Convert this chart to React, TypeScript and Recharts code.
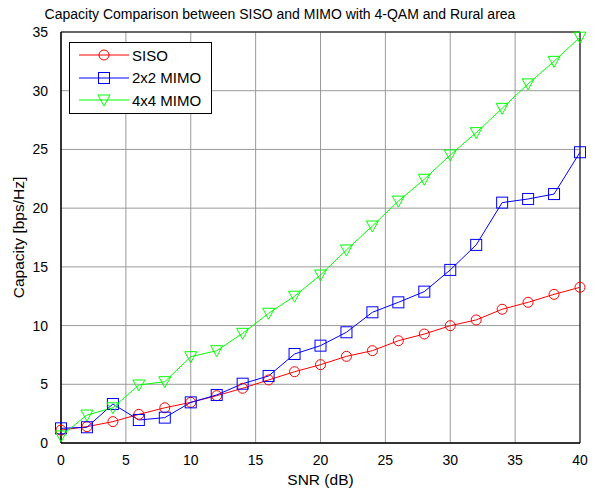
import { CartesianGrid, Legend, Line, LineChart, ReferenceArea, XAxis, YAxis } from "recharts";

const snr = [0, 2, 4, 6, 8, 10, 12, 14, 16, 18, 20, 22, 24, 26, 28, 30, 32, 34, 36, 38, 40];
const siso = [1.1, 1.39, 1.82, 2.44, 3.0, 3.46, 4.03, 4.66, 5.37, 6.07, 6.67, 7.38, 7.86, 8.71, 9.28, 9.99, 10.48, 11.39, 11.98, 12.66, 13.26];
const mimo2 = [1.25, 1.34, 3.32, 1.96, 2.16, 3.46, 4.09, 5.05, 5.71, 7.58, 8.29, 9.43, 11.13, 11.98, 12.89, 14.74, 16.87, 20.47, 20.78, 21.2, 24.76];
const mimo4 = [0.6, 2.38, 3.0, 4.94, 5.22, 7.35, 7.86, 9.34, 11.05, 12.5, 14.31, 16.44, 18.48, 20.6, 22.46, 24.53, 26.43, 28.5, 30.58, 32.5, 34.56];
const xTicks = [0, 5, 10, 15, 20, 25, 30, 35, 40];
const yTicks = [0, 5, 10, 15, 20, 25, 30, 35];

const data = snr.map((s, i) => ({ snr: s, siso: siso[i], mimo2: mimo2[i], mimo4: mimo4[i] }));

const FONT = "'Liberation Sans', Arial, sans-serif";

type Shape = "circle" | "square" | "tri";

function marker(shape: Shape, color: string, cx: number, cy: number, key?: string | number) {
  if (shape === "circle") return <circle key={key} cx={cx} cy={cy} r={5} fill="none" stroke={color} strokeWidth={1} />;
  if (shape === "square")
    return <rect key={key} x={cx - 5.5} y={cy - 5.5} width={11} height={11} fill="none" stroke={color} strokeWidth={1} />;
  return (
    <polygon
      key={key}
      points={`${cx - 6},${cy - 5} ${cx + 6},${cy - 5} ${cx},${cy + 6}`}
      fill="none"
      stroke={color}
      strokeWidth={1}
    />
  );
}

const series: { key: string; name: string; color: string; shape: Shape }[] = [
  { key: "siso", name: "SISO", color: "#ff0000", shape: "circle" },
  { key: "mimo2", name: "2x2 MIMO", color: "#0000ff", shape: "square" },
  { key: "mimo4", name: "4x4 MIMO", color: "#00ff00", shape: "tri" },
];

// matlab-style legend box, top left inside the axes
function LegendBox() {
  return (
    <div style={{ position: "relative", border: "1px solid #000", background: "#fff", width: 141, height: 70, fontFamily: FONT, fontSize: 15 }}>
      {series.map((s, i) => (
        <div key={s.key} style={{ position: "absolute", left: 0, top: 3 + i * 22.5, height: 18, display: "flex", alignItems: "center" }}>
          <svg width={62} height={18} style={{ display: "block" }}>
            <line x1={9} x2={59} y1={9} y2={9} stroke={s.color} strokeWidth={1} />
            {marker(s.shape, s.color, 34, 9)}
          </svg>
          <span style={{ color: "#000", whiteSpace: "nowrap" }}>{s.name}</span>
        </div>
      ))}
    </div>
  );
}

export default function App() {
  return (
    <div style={{ position: "absolute", left: 0, top: 0, width: 596, height: 489, background: "#fff" }}>
      <div
        style={{
          position: "absolute",
          left: 0,
          top: 6,
          width: 560,
          textAlign: "center",
          fontFamily: FONT,
          fontSize: 14,
          color: "#000",
          whiteSpace: "nowrap",
        }}
      >
        Capacity Comparison between SISO and MIMO with 4-QAM and Rural area
      </div>
      <LineChart width={596} height={489} data={data} margin={{ top: 32, right: 16, left: 0, bottom: 16 }}>
        <CartesianGrid stroke="#9a9a9a" strokeWidth={1} />
        <XAxis
          dataKey="snr"
          type="number"
          domain={[0, 40]}
          ticks={xTicks}
          height={30}
          tickLine={false}
          axisLine={{ stroke: "#000" }}
          tick={{ fill: "#000", fontSize: 14, fontFamily: FONT }}
          tickMargin={6}
          label={{ value: "SNR (dB)", position: "insideBottom", offset: -12, fill: "#000", fontSize: 15.5, fontFamily: FONT }}
        />
        <YAxis
          type="number"
          domain={[0, 35]}
          ticks={yTicks}
          width={61}
          tickLine={false}
          axisLine={{ stroke: "#000" }}
          tick={{ fill: "#000", fontSize: 14, fontFamily: FONT }}
          tickMargin={7}
          label={{
            value: "Capacity [bps/Hz]",
            angle: -90,
            position: "insideLeft",
            offset: 18,
            style: { textAnchor: "middle" },
            fill: "#000",
            fontSize: 15.5,
            fontFamily: FONT,
          }}
        />
        <ReferenceArea x1={0} x2={40} y1={0} y2={35} fill="none" stroke="#000" strokeWidth={1} />
        {series.map((s) => (
          <Line
            key={s.key}
            dataKey={s.key}
            name={s.name}
            stroke={s.color}
            strokeWidth={1}
            isAnimationActive={false}
            dot={(p: any) => marker(s.shape, s.color, p.cx, p.cy, p.index)}
            activeDot={false}
          />
        ))}
        <Legend
          layout="vertical"
          align="center"
          verticalAlign="middle"
          wrapperStyle={{ position: "absolute", left: 69, top: 42, width: 143, height: 72 }}
          content={() => <LegendBox />}
        />
      </LineChart>
    </div>
  );
}
